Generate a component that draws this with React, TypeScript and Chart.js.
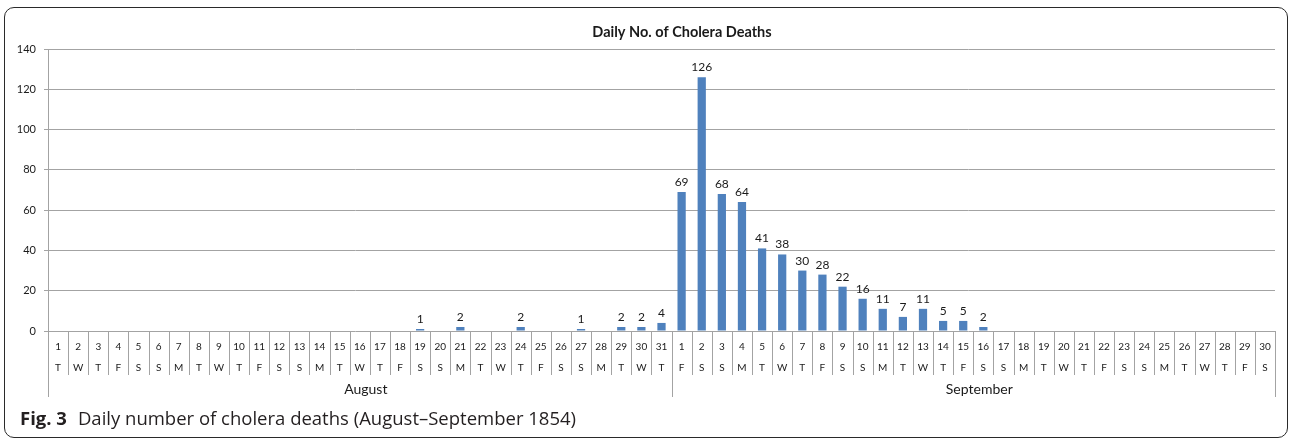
import React, { useEffect, useRef } from "react";
import { Chart, registerables } from "chart.js";
Chart.register(...registerables);

const chartTitle = "Daily No. of Cholera Deaths";
const captionLead = "Fig. 3";
const captionText = "Daily number of cholera deaths (August–September 1854)";

const dayLabels = [
  "1","2","3","4","5","6","7","8","9","10","11","12","13","14","15","16","17","18","19","20","21","22","23","24","25","26","27","28","29","30","31",
  "1","2","3","4","5","6","7","8","9","10","11","12","13","14","15","16","17","18","19","20","21","22","23","24","25","26","27","28","29","30",
];
const weekdayLabels = [
  "T","W","T","F","S","S","M","T","W","T","F","S","S","M","T","W","T","F","S","S","M","T","W","T","F","S","S","M","T","W","T",
  "F","S","S","M","T","W","T","F","S","S","M","T","W","T","F","S","S","M","T","W","T","F","S","S","M","T","W","T","F","S",
];
const monthLabels = ["August", "September"];
const monthLengths = [31, 30];
const deaths: (number | null)[] = [
  null,null,null,null,null,null,null,null,null,null,null,null,null,null,null,null,null,null,1,null,2,null,null,2,null,null,1,null,2,2,4,
  69,126,68,64,41,38,30,28,22,16,11,7,11,5,5,2,null,null,null,null,null,null,null,null,null,null,null,null,null,null,
];
const yTicks = { min: 0, max: 140, step: 20 };

const FONT = "Lato, 'Open Sans', sans-serif";
const GRID = "#a3a3a3";

export default function App() {
  const ref = useRef<HTMLCanvasElement>(null);
  useEffect(() => {
    const plugin = {
      id: "excelAxis",
      afterDraw(chart: any) {
        const { ctx, chartArea } = chart;
        const xs = chart.scales.x;
        const n = dayLabels.length;
        const w = (chartArea.right - chartArea.left) / n;
        const base = chartArea.bottom;
        ctx.save();
        ctx.strokeStyle = GRID;
        ctx.lineWidth = 1;
        const monthEdges: number[] = [0];
        let acc = 0;
        monthLengths.forEach((m) => { acc += m; monthEdges.push(acc); });
        for (let i = 0; i <= n; i++) {
          const px = Math.round(xs.getPixelForValue(Math.min(i, n - 1)) + (i === n ? w / 2 : -w / 2)) + 0.5;
          const long = monthEdges.includes(i);
          ctx.beginPath();
          ctx.moveTo(px, base);
          ctx.lineTo(px, long ? base + 66 : base + 44);
          ctx.stroke();
        }
        ctx.fillStyle = "#1a1a1a";
        ctx.textAlign = "center";
        ctx.textBaseline = "middle";
        ctx.font = `10px ${FONT}`;
        for (let i = 0; i < n; i++) {
          const cx = xs.getPixelForValue(i);
          ctx.fillText(dayLabels[i], cx, base + 16);
          ctx.fillText(weekdayLabels[i], cx, base + 37);
        }
        ctx.font = `14px ${FONT}`;
        for (let m = 0; m < monthLabels.length; m++) {
          const l = xs.getPixelForValue(monthEdges[m]) - w / 2;
          const r = xs.getPixelForValue(monthEdges[m + 1] - 1) + w / 2;
          ctx.fillText(monthLabels[m], (l + r) / 2 + 6, base + 58);
        }
        const meta = chart.getDatasetMeta(0);
        ctx.font = `12px ${FONT}`;
        ctx.textBaseline = "alphabetic";
        meta.data.forEach((el: any, i: number) => {
          const v = deaths[i];
          if (v === null || v === undefined) return;
          ctx.fillText(String(v), el.x, el.y - 6);
        });
        ctx.font = `bold 14.5px ${FONT}`;
        ctx.textBaseline = "middle";
        ctx.fillText(chartTitle, 682, 32);
        ctx.restore();
      },
    };

    const chart = new Chart(ref.current as HTMLCanvasElement, {
      type: "bar",
      data: {
        labels: dayLabels.map((d, i) => `${d} ${weekdayLabels[i]}`),
        datasets: [
          {
            data: deaths as any,
            backgroundColor: "#4f81bd",
            borderColor: "#4f81bd",
            borderWidth: 0,
            categoryPercentage: 1,
            barPercentage: 0.41,
          },
        ],
      },
      options: {
        animation: false,
        responsive: false,
        maintainAspectRatio: false,
        layout: { padding: { left: 4, right: 15, top: 49, bottom: 108 } },
        plugins: { legend: { display: false }, title: { display: false }, tooltip: { enabled: false } },
        scales: {
          x: { display: false, offset: true, grid: { offset: true } },
          y: {
            min: yTicks.min,
            max: yTicks.max,
            ticks: { stepSize: yTicks.step, color: "#1a1a1a", font: { family: FONT, size: 11 }, padding: 8 },
            grid: { color: GRID, tickLength: 4, lineWidth: 1 },
            border: { display: true, color: GRID },
            afterFit: (s: any) => { s.width = 44; },
          },
        },
      },
      plugins: [plugin],
    });
    return () => chart.destroy();
  }, []);

  return (
    <div style={{ position: "absolute", left: 0, top: 0, width: 1290, height: 439, background: "#fff", overflow: "hidden" }}>
      <div
        style={{
          position: "absolute", left: 4, top: 7, width: 1284, height: 431,
          border: "1.5px solid #2a2a2a", borderRadius: 10, boxSizing: "border-box",
        }}
      />
      <canvas ref={ref} width={1290} height={439} style={{ position: "absolute", left: 0, top: 0, width: 1290, height: 439 }} />
      <div
        style={{
          position: "absolute", left: 20, top: 407, fontFamily: "'Open Sans', sans-serif", fontSize: 18.5,
          lineHeight: "22px", color: "#231f20", whiteSpace: "nowrap",
        }}
      >
        <b>{captionLead}</b>
        <span style={{ marginLeft: 11 }}>{captionText}</span>
      </div>
    </div>
  );
}
